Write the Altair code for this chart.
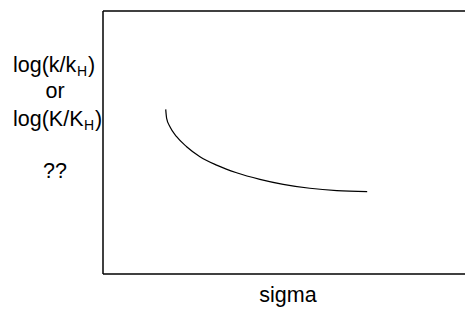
import altair as alt
import pandas as pd

# curve (arbitrary 0-10 units on both axes)
sigma = [1.695, 1.72, 1.81, 1.99, 2.26, 2.62, 3.07, 3.61, 4.24, 4.87, 5.59, 6.32, 7.14]
logk = [6.26, 5.92, 5.60, 5.22, 4.84, 4.46, 4.14, 3.85, 3.60, 3.41, 3.26, 3.17, 3.13]

y_title_main = ["log(k/k", "log(K/K"]
y_title_sub = "H"
y_title_close = ")"
y_title_or = "or"
y_title_q = "??"
x_title = "sigma"

df = pd.DataFrame({"sigma": sigma, "logk": logk})

FONT = "Liberation Sans"
FS = 21.5
SUB = 14
W, H = 370, 263

line = alt.Chart(df).mark_line(
    color="black", strokeWidth=1.2, interpolate="monotone"
).encode(
    x=alt.X("sigma:Q", scale=alt.Scale(domain=[0, 10]), axis=None),
    y=alt.Y("logk:Q", scale=alt.Scale(domain=[0, 10]), axis=None),
)

one = pd.DataFrame({"t": [0]})


def txt(s, xv, yv, size=FS, align="left"):
    return alt.Chart(one).mark_text(
        text=s, font=FONT, fontSize=size, align=align,
        baseline="alphabetic", color="black"
    ).encode(x=alt.value(xv), y=alt.value(yv))


def rule(**enc):
    return alt.Chart(one).mark_rule(color="black", strokeWidth=1.5).encode(**enc)


frame = [
    rule(x=alt.value(0), x2=alt.value(W), y=alt.value(0)),
    rule(x=alt.value(0), x2=alt.value(W), y=alt.value(H)),
    rule(x=alt.value(0), y=alt.value(0), y2=alt.value(H)),
]

layers = frame + [
    line,
    txt(y_title_main[0], -90, 61),
    txt(y_title_sub, -26, 65, size=SUB),
    txt(y_title_close, -15, 61),
    txt(y_title_or, -48, 87, align="center"),
    txt(y_title_main[1], -90, 115),
    txt(y_title_sub, -19, 119, size=SUB),
    txt(y_title_close, -8, 115),
    txt(y_title_q, -48, 167, align="center"),
    txt(x_title, 185, 291, align="center"),
]

chart = alt.layer(*layers).properties(
    width=W, height=H,
    autosize=alt.AutoSizeParams(type="none"),
    padding={"left": 95, "top": 3, "right": -8, "bottom": 34},
).configure_view(stroke=None)

chart.save("out.html", embed_options={"renderer": "svg", "actions": False})
